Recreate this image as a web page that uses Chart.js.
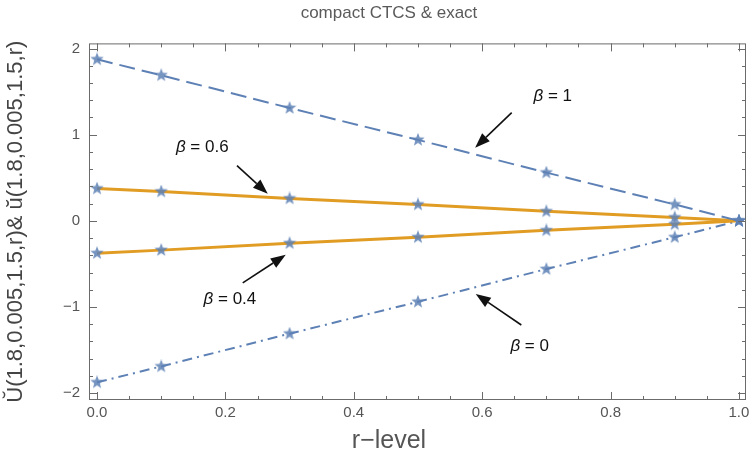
<html>
<head>
<script src="https://cdn.jsdelivr.net/npm/chart.js"></script>
</head>
<body style="margin:0;background:#ffffff;overflow:hidden">
<div style="width:778px;height:463px"><canvas id="myChart"></canvas></div>
<script>
// values
const rLevels = [0, 0.1, 0.3, 0.5, 0.7, 0.9, 1.0];
const beta1   = [1.875, 1.69, 1.31, 0.94, 0.56, 0.19, 0];
const beta06  = [0.375, 0.34, 0.26, 0.19, 0.11, 0.04, 0];
const beta04  = [-0.375, -0.34, -0.26, -0.19, -0.11, -0.04, 0];
const beta0   = [-1.875, -1.69, -1.31, -0.94, -0.56, -0.19, 0];
const betaValues = ['1', '0.6', '0.4', '0'];

const blue = '#5e81b5';
const orange = '#e19c24';
const fontFam = '"Liberation Sans", Arial, sans-serif';

// filled five point star used as marker
function makeStar(size, color) {
    var c = document.createElement('canvas');
    c.width = size; c.height = size;
    var g = c.getContext('2d');
    var cx = size / 2, cy = size / 2, ro = size / 2, ri = ro * 0.42;
    g.beginPath();
    for (var i = 0; i < 10; i++) {
        var r = (i % 2 == 0) ? ro : ri;
        var a = -Math.PI / 2 + i * Math.PI / 5;
        g.lineTo(cx + r * Math.cos(a), cy + r * Math.sin(a));
    }
    g.closePath();
    g.fillStyle = color;
    g.fill();
    return c;
}
const star = makeStar(14, 'rgba(94,129,181,0.85)');

function pts(ys) {
    return rLevels.map(function (x, i) { return {x: x, y: ys[i]}; });
}

function lineSet(label, ys, color, width, dash) {
    return {
        label: label,
        data: pts(ys),
        borderColor: color,
        borderWidth: width,
        borderDash: dash,
        pointStyle: star,
        pointRadius: 7,
        pointHoverRadius: 7,
        fill: false,
        tension: 0
    };
}

// annotation placement in data units: label, tail, tip
const notePos = [
    {t: [0.71, 1.45],    a: [0.646, 1.256],  b: [0.589, 0.849]},
    {t: [0.164, 0.85],   a: [0.218, 0.64],   b: [0.266, 0.314]},
    {t: [0.207, -0.907], a: [0.227, -0.72],  b: [0.294, -0.395]},
    {t: [0.674, -1.453], a: [0.661, -1.209], b: [0.590, -0.849]}
];

const framePlugin = {
    id: 'frame',
    afterDraw(chart) {
        var ctx = chart.ctx, a = chart.chartArea;
        var xs = chart.scales.x, ys = chart.scales.y;
        ctx.save();
        ctx.strokeStyle = '#6b6b6b';
        ctx.lineWidth = 1;
        ctx.strokeRect(a.left + 0.5, a.top + 0.5, a.right - a.left - 1, a.bottom - a.top - 1);
        ctx.beginPath();
        for (var i = 0; i <= 20; i++) {
            var v = i * 0.05;
            var px = Math.round(xs.getPixelForValue(v)) + 0.5;
            var len = (i % 4 == 0) ? 8 : 4;
            ctx.moveTo(px, a.bottom); ctx.lineTo(px, a.bottom - len);
            ctx.moveTo(px, a.top); ctx.lineTo(px, a.top + len);
        }
        for (var j = -10; j <= 10; j++) {
            var vy = j * 0.2;
            var py = Math.round(ys.getPixelForValue(vy)) + 0.5;
            var ln = (j % 5 == 0) ? 8 : 4;
            ctx.moveTo(a.left, py); ctx.lineTo(a.left + ln, py);
            ctx.moveTo(a.right, py); ctx.lineTo(a.right - ln, py);
        }
        ctx.stroke();

        // beta annotations
        ctx.fillStyle = '#111';
        ctx.strokeStyle = '#111';
        ctx.textBaseline = 'middle';
        ctx.textAlign = 'left';
        for (var k = 0; k < notePos.length; k++) {
            var n = notePos[k];
            var tx = xs.getPixelForValue(n.t[0]), ty = ys.getPixelForValue(n.t[1]);
            var rest = ' = ' + betaValues[k];
            ctx.font = 'italic 17px ' + fontFam;
            var wb = ctx.measureText('\u03b2').width;
            ctx.font = '17px ' + fontFam;
            var wr = ctx.measureText(rest).width;
            var sx = tx - (wb + wr) / 2;
            ctx.font = 'italic 17px ' + fontFam;
            ctx.fillText('\u03b2', sx, ty);
            ctx.font = '17px ' + fontFam;
            ctx.fillText(rest, sx + wb, ty);

            var x1 = xs.getPixelForValue(n.a[0]), y1 = ys.getPixelForValue(n.a[1]);
            var x2 = xs.getPixelForValue(n.b[0]), y2 = ys.getPixelForValue(n.b[1]);
            var ang = Math.atan2(y2 - y1, x2 - x1);
            var hl = 15, hw = 5.5;
            var bx = x2 - hl * Math.cos(ang), by = y2 - hl * Math.sin(ang);
            ctx.lineWidth = 1.6;
            ctx.beginPath();
            ctx.moveTo(x1, y1); ctx.lineTo(bx, by);
            ctx.stroke();
            ctx.beginPath();
            ctx.moveTo(x2, y2);
            ctx.lineTo(bx + hw * Math.sin(ang), by - hw * Math.cos(ang));
            ctx.lineTo(bx - hw * Math.sin(ang), by + hw * Math.cos(ang));
            ctx.closePath();
            ctx.fill();
        }
        ctx.restore();
    }
};

const config = {
    type: 'line',
    data: {
        datasets: [
            lineSet('beta 1', beta1, blue, 2, [16, 7]),
            lineSet('beta 0.6', beta06, orange, 3, []),
            lineSet('beta 0.4', beta04, orange, 3, []),
            lineSet('beta 0', beta0, blue, 2, [10, 5, 2, 5])
        ]
    },
    options: {
        responsive: true,
        maintainAspectRatio: false,
        animation: false,
        layout: {padding: {left: 32, right: 32, top: 0, bottom: 5}},
        plugins: {
            legend: {display: false},
            tooltip: {enabled: false},
            title: {
                display: true,
                text: 'compact CTCS & exact',
                color: '#5a5a5a',
                font: {size: 17, family: fontFam, weight: 'normal'},
                padding: {top: 3, bottom: 20}
            },
            // x axis caption, centred on the whole figure like the original
            subtitle: {
                display: true,
                position: 'bottom',
                text: 'r\u2212level',
                color: '#555',
                font: {size: 25, family: fontFam, weight: 'normal'},
                padding: {top: 0, bottom: 2}
            }
        },
        scales: {
            x: {
                type: 'linear',
                min: -0.0125,
                max: 1.011,
                grid: {display: false, drawTicks: false},
                border: {display: false},
                ticks: {
                    stepSize: 0.2,
                    includeBounds: false,
                    padding: 4,
                    color: '#555',
                    font: {size: 15, family: fontFam},
                    callback: function (v) { return v.toFixed(1); }
                }
            },
            y: {
                min: -2.08,
                max: 2.06,
                grid: {display: false, drawTicks: false},
                border: {display: false},
                afterFit: function (scale) { scale.width = 57; },
                ticks: {
                    stepSize: 1,
                    includeBounds: false,
                    padding: 9,
                    color: '#555',
                    font: {size: 15, family: fontFam},
                    callback: function (v) { return v < 0 ? '\u2212' + Math.abs(v) : String(v); }
                },
                title: {
                    display: true,
                    text: '\u016c(1.8,0.005,1.5,r)& \u016d(1.8,0.005,1.5,r)',
                    color: '#444',
                    font: {size: 22, family: fontFam},
                    padding: {top: -29, bottom: 0}
                }
            }
        }
    },
    plugins: [framePlugin]
};

var myChart = new Chart(document.getElementById('myChart'), config);
</script>
</body>
</html>
